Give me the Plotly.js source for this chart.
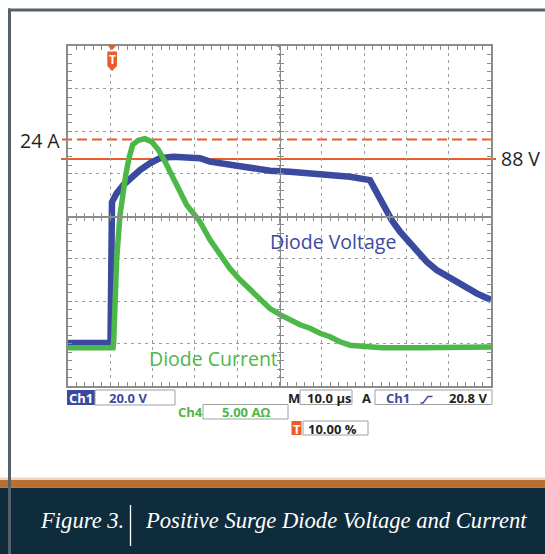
<!DOCTYPE html>
<html>
<head>
<meta charset="utf-8">
<script src="https://cdn.plot.ly/plotly-3.0.1.min.js"></script>
<style>
html,body{margin:0;padding:0;background:#ffffff;}
#chart{width:545px;height:554px;}
</style>
</head>
<body>
<div id="chart"></div>
<script>
// ---- data (time in µs, 10 µs/div, trigger at 10 %) ----
const timeVoltage = [-10, 0.05, 0.40, 1.51, 3.07, 4.66, 7.02, 9.34, 11.75, 14.89, 18.06, 21.21, 23.57, 28.3, 33.03, 37.76, 42.48, 47.21, 51.94, 56.67, 61.39, 62.98, 64.54, 66.52, 68.49, 70.45, 72.44, 74.8, 77.16, 80.31, 83.45, 86.62, 90];
const diodeVoltage = [1.4, 1.4, 67.8, 71.9, 75.8, 78.9, 82.8, 86.0, 88.4, 89.1, 88.8, 88.4, 86.8, 85.2, 83.6, 82.5, 82.0, 81.3, 80.5, 79.7, 78.1, 71.9, 65.6, 59.3, 53.8, 49.1, 44.4, 39.7, 35.8, 31.9, 27.9, 24.8, 21.7];
const timeCurrent = [-10, 0.64, 0.80, 1.51, 2.29, 2.93, 3.64, 4.42, 5.3, 6.62, 8.2, 9.86, 11.35, 12.93, 14.52, 16.08, 18.06, 20.02, 21.21, 23.57, 25.93, 28.3, 30.66, 33.03, 35.39, 37.76, 40.12, 42.48, 44.85, 47.21, 49.57, 51.94, 54.3, 56.67, 59.03, 64.23, 73.22, 82.68, 90];
const diodeCurrent = [-0.5, -0.5, 0.2, 10.0, 15.1, 17.9, 19.8, 21.8, 23.4, 23.9, 24.1, 23.7, 22.8, 21.4, 19.8, 18.3, 16.3, 15.1, 14.3, 12.2, 10.4, 8.8, 7.5, 6.3, 5.1, 4.1, 3.4, 2.8, 2.2, 1.8, 1.2, 0.8, 0.2, -0.2, -0.3, -0.5, -0.5, -0.4, -0.4];
const cursorVoltage = 88;   // V
const cursorCurrent = 24;   // A
const seriesNames = ['Diode Voltage', 'Diode Current'];
const cursorLabels = ['88 V', '24 A'];
const statusTexts = {ch1: 'Ch1', ch1Scale: '20.0 V', ch4: 'Ch4', ch4Scale: '5.00 A\u03a9', m: 'M', time: '10.0 \u00b5s', a: 'A', trigSrc: 'Ch1', trigLevel: '20.8 V', t: 'T', trigPos: '10.00 %'};
const captionFig = 'Figure 3.';
const captionText = 'Positive Surge Diode Voltage and Current';

// ---- geometry / styles ----
const xRange = [-10, 90];
const vRange = [-18.8, 141.2];
const iRange = [-5, 35];
const L = 68, T = 46, W = 423, H = 340;
const fx = p => (p - L) / W;
const fy = p => (T + H - p) / H;
const vToPaper = v => (v - vRange[0]) / (vRange[1] - vRange[0]);
const iToPaper = v => (v - iRange[0]) / (iRange[1] - iRange[0]);

const BLUE = '#3a4a9e', GREEN = '#4cb848', ORANGE = '#e85d2a', GRID = '#9c9c9c', FRAME = '#8c8c8c';
const TEXT = '#231f20';

function rect(x0, y0, x1, y1, fill, lineColor, lw, layer) {
  return {type: 'rect', xref: 'paper', yref: 'paper', x0: fx(x0), x1: fx(x1), y0: fy(y1), y1: fy(y0),
          fillcolor: fill, line: {color: lineColor || fill, width: lw || 0}, layer: layer || 'below'};
}
function path(points, fill, lineColor, lw, layer) {
  const d = points.map((p, i) => (i ? 'L' : 'M') + fx(p[0]) + ',' + fy(p[1])).join(' ') + (fill ? ' Z' : '');
  return {type: 'path', xref: 'paper', yref: 'paper', path: d, fillcolor: fill || 'rgba(0,0,0,0)',
          line: {color: lineColor || fill, width: lw || 0}, layer: layer || 'above'};
}
function label(text, x, y, size, color, anchor, extra) {
  return Object.assign({xref: 'paper', yref: 'paper', x: fx(x), y: fy(y), text: text, showarrow: false,
    xanchor: anchor, yanchor: 'middle', font: {family: 'Open Sans', size: size, color: color}}, extra || {});
}
function bold(text, x, y, color, anchor) {
  return label(text, x, y, 13, color, anchor, {font: {family: 'Open Sans', size: 13, color: color, weight: 'bold'}});
}

const baseAxis = {showticklabels: false, zeroline: false, fixedrange: true};
const xMain = Object.assign({}, baseAxis, {range: xRange, tick0: 0, dtick: 10, showgrid: true, gridcolor: GRID,
  griddash: '3px,4px', gridwidth: 1, showline: true, linecolor: FRAME, linewidth: 2, mirror: 'allticks',
  ticks: 'inside', ticklen: 4, tickwidth: 1, tickcolor: FRAME,
  minor: {dtick: 2, tick0: 0, ticks: 'inside', ticklen: 4, tickwidth: 1, tickcolor: FRAME, showgrid: false}});
const yMain = Object.assign({}, baseAxis, {range: vRange, tick0: vRange[0], dtick: 20, showgrid: true, gridcolor: GRID,
  griddash: '3px,4px', gridwidth: 1, showline: true, linecolor: FRAME, linewidth: 2, mirror: 'allticks',
  ticks: 'inside', ticklen: 4, tickwidth: 1, tickcolor: FRAME,
  minor: {dtick: 4, tick0: vRange[0], ticks: 'inside', ticklen: 4, tickwidth: 1, tickcolor: FRAME, showgrid: false}});
function centerX(side) {
  return Object.assign({}, baseAxis, {overlaying: 'x', anchor: 'free', position: 0.5, range: xRange, tick0: 0, dtick: 10,
    showgrid: false, showline: true, linecolor: FRAME, linewidth: 1.5, ticks: side, ticklen: 3, tickwidth: 1, tickcolor: FRAME,
    minor: {dtick: 2, tick0: 0, ticks: side, ticklen: 3, tickwidth: 1, tickcolor: FRAME, showgrid: false}});
}
function centerY(side) {
  return Object.assign({}, baseAxis, {overlaying: 'y', anchor: 'free', position: 0.5, range: vRange, tick0: vRange[0], dtick: 20,
    showgrid: false, showline: true, linecolor: FRAME, linewidth: 1.5, ticks: side, ticklen: 3, tickwidth: 1, tickcolor: FRAME,
    minor: {dtick: 4, tick0: vRange[0], ticks: side, ticklen: 3, tickwidth: 1, tickcolor: FRAME, showgrid: false}});
}

const traces = [
  {x: [], y: [], xaxis: 'x2', yaxis: 'y3', type: 'scatter', mode: 'lines', showlegend: false, hoverinfo: 'skip'},
  {x: [], y: [], xaxis: 'x3', yaxis: 'y4', type: 'scatter', mode: 'lines', showlegend: false, hoverinfo: 'skip'},
  {x: timeVoltage, y: diodeVoltage, xaxis: 'x', yaxis: 'y', type: 'scatter', mode: 'lines', name: seriesNames[0],
   line: {color: BLUE, width: 6.5, shape: 'linear'}, showlegend: false, hoverinfo: 'skip'},
  {x: timeCurrent, y: diodeCurrent, xaxis: 'x', yaxis: 'y2', type: 'scatter', mode: 'lines', name: seriesNames[1],
   line: {color: GREEN, width: 5.5, shape: 'linear'}, showlegend: false, hoverinfo: 'skip'}
];

const shapes = [
  // page frame and caption band
  rect(-5, 487.5, 560, 560, '#0f2c3c'),
  rect(-5, 480, 560, 487.5, '#b96f2f'),
  rect(-5, 477.5, 560, 480, '#ecd8c2'),
  rect(8, 8.5, 560, 11.5, '#56626a'),
  rect(8, 8.5, 11, 560, '#56626a'),
  {type: 'line', xref: 'paper', yref: 'paper', x0: fx(130.5), x1: fx(130.5), y0: fy(505), y1: fy(546), line: {color: '#ffffff', width: 1.3}, layer: 'above'},
  // cursors
  {type: 'line', xref: 'paper', yref: 'paper', x0: fx(62), x1: fx(496), y0: iToPaper(cursorCurrent), y1: iToPaper(cursorCurrent),
   line: {color: ORANGE, width: 2, dash: '10px,5px'}, layer: 'below'},
  {type: 'line', xref: 'paper', yref: 'paper', x0: fx(61), x1: fx(496), y0: vToPaper(cursorVoltage), y1: vToPaper(cursorVoltage),
   line: {color: ORANGE, width: 2}, layer: 'below'},
  // trigger marker
  path([[107, 45], [117, 45], [112, 50]], ORANGE, ORANGE, 0),
  path([[107.3, 51.5], [117, 51.5], [117, 66], [112.15, 71], [107.3, 66]], ORANGE, ORANGE, 0),
  // status bar
  rect(67, 390, 95, 405, BLUE, BLUE, 0, 'above'),
  rect(95, 390, 175, 405, '#ffffff', '#a0a0a0', 1, 'above'),
  rect(203, 404.5, 288, 419, '#ffffff', '#a0a0a0', 1, 'above'),
  rect(300, 390, 352, 404.5, '#ffffff', '#a0a0a0', 1, 'above'),
  rect(375, 390, 492, 404.5, '#ffffff', '#a0a0a0', 1, 'above'),
  rect(291.5, 421, 301.5, 435, ORANGE, ORANGE, 0, 'above'),
  rect(303, 421, 368, 435, '#ffffff', '#a0a0a0', 1, 'above'),
  path([[420.5, 403], [423, 403], [428, 396.5], [432.5, 396.5]], null, BLUE, 1.3)
];

const annotations = [
  label(cursorLabels[1], 62, 140, 19.5, TEXT, 'right'),
  label(cursorLabels[0], 499, 158, 19.5, TEXT, 'left'),
  label(seriesNames[0], 268, 242, 19.5, BLUE, 'left'),
  label(seriesNames[1], 147, 358.5, 19.5, GREEN, 'left'),
  bold(statusTexts.ch1, 81, 397.5, '#ffffff', 'center'),
  bold(statusTexts.ch1Scale, 107, 397.5, BLUE, 'left'),
  bold(statusTexts.ch4, 190, 412, GREEN, 'center'),
  bold(statusTexts.ch4Scale, 220, 412, GREEN, 'left'),
  bold(statusTexts.m, 293.5, 397.5, TEXT, 'center'),
  bold(statusTexts.time, 305, 397.5, TEXT, 'left'),
  bold(statusTexts.a, 366.5, 397.5, TEXT, 'center'),
  bold(statusTexts.trigSrc, 384, 397.5, BLUE, 'left'),
  bold(statusTexts.trigLevel, 489, 397.5, TEXT, 'right'),
  bold(statusTexts.t, 296.5, 428.5, '#ffffff', 'center'),
  bold(statusTexts.trigPos, 306, 428.5, TEXT, 'left'),
  label('T', 112.15, 59.5, 12, '#ffffff', 'center', {font: {family: 'Open Sans', size: 12, color: '#ffffff', weight: 'bold'}}),
  label(captionFig, 38, 520.5, 22.6, '#ffffff', 'left', {font: {family: 'Liberation Serif', size: 22.6, color: '#ffffff', style: 'italic'}}),
  label(captionText, 143, 520.5, 22.6, '#ffffff', 'left', {font: {family: 'Liberation Serif', size: 22.6, color: '#ffffff', style: 'italic'}})
];

const layout = {
  width: 545, height: 554,
  margin: {l: L, r: 545 - L - W, t: T, b: 554 - T - H, pad: 0},
  paper_bgcolor: '#ffffff', plot_bgcolor: 'rgba(0,0,0,0)',
  showlegend: false, hovermode: false,
  xaxis: xMain, yaxis: yMain,
  yaxis2: Object.assign({}, baseAxis, {overlaying: 'y', range: iRange, visible: false, showgrid: false}),
  xaxis2: centerX('outside'), xaxis3: centerX('inside'),
  yaxis3: centerY('outside'), yaxis4: centerY('inside'),
  shapes: shapes, annotations: annotations
};

Plotly.newPlot('chart', traces, layout, {staticPlot: true, displayModeBar: false});
</script>
</body>
</html>
